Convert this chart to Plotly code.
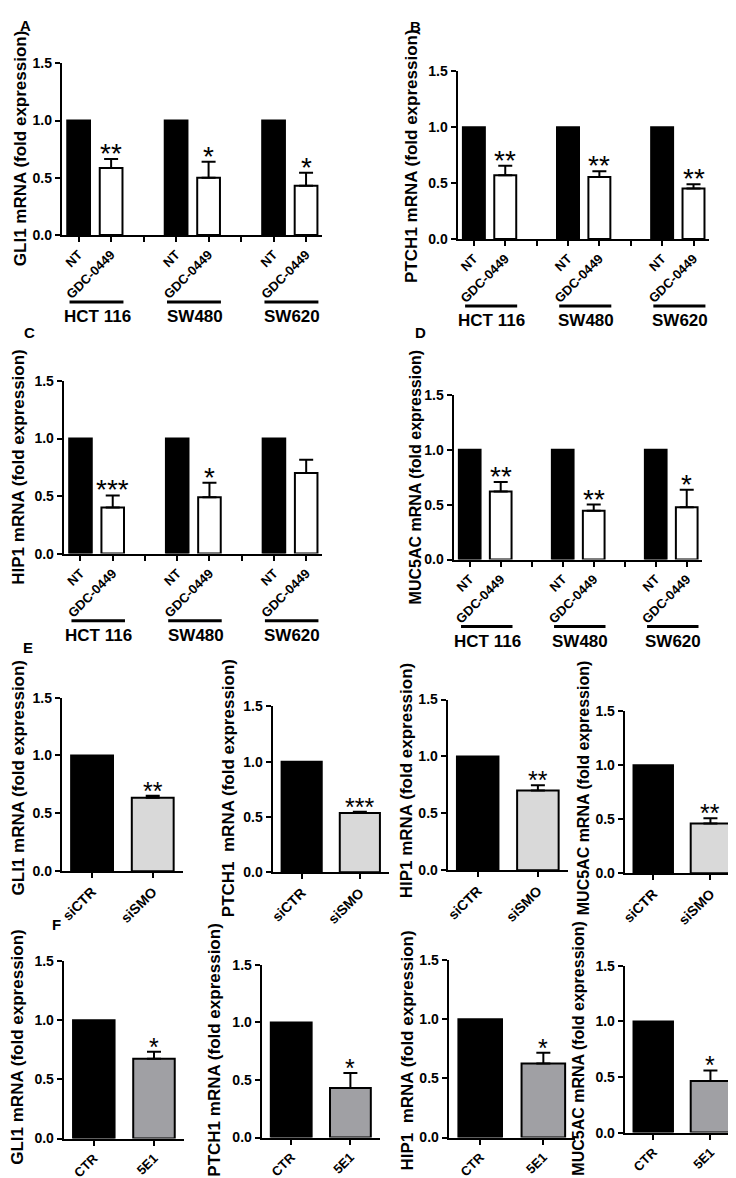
import plotly.graph_objects as go

W, H = 736, 1178
FONT = "Liberation Sans, Arial, Helvetica, sans-serif"

# panels A-D: cell lines treated with GDC-0449
cell_lines = ["HCT 116", "SW480", "SW620"]
treatments = ["NT", "GDC-0449"]

gli1_nt = [1.0, 1.0, 1.0]
gli1_gdc = [0.585, 0.50, 0.43]
gli1_gdc_err = [0.08, 0.14, 0.115]
gli1_stars = ["**", "*", "*"]

ptch1_nt = [1.0, 1.0, 1.0]
ptch1_gdc = [0.57, 0.555, 0.45]
ptch1_gdc_err = [0.085, 0.05, 0.04]
ptch1_stars = ["**", "**", "**"]

hip1_nt = [1.0, 1.0, 1.0]
hip1_gdc = [0.40, 0.49, 0.70]
hip1_gdc_err = [0.105, 0.125, 0.115]
hip1_stars = ["***", "*", ""]

muc5ac_nt = [1.0, 1.0, 1.0]
muc5ac_gdc = [0.62, 0.445, 0.475]
muc5ac_gdc_err = [0.085, 0.055, 0.16]
muc5ac_stars = ["**", "**", "*"]

# panel E: siRNA against SMO
si_labels = ["siCTR", "siSMO"]
si_gli1 = [1.0, 0.635]
si_gli1_err = [0.0, 0.018]
si_ptch1 = [1.0, 0.535]
si_ptch1_err = [0.0, 0.012]
si_hip1 = [1.0, 0.70]
si_hip1_err = [0.0, 0.046]
si_muc5ac = [1.0, 0.46]
si_muc5ac_err = [0.0, 0.05]
si_stars = ["**", "***", "**", "**"]

# panel F: 5E1 antibody
ab_labels = ["CTR", "5E1"]
ab_gli1 = [1.0, 0.675]
ab_gli1_err = [0.0, 0.058]
ab_ptch1 = [1.0, 0.43]
ab_ptch1_err = [0.0, 0.13]
ab_hip1 = [1.0, 0.625]
ab_hip1_err = [0.0, 0.092]
ab_muc5ac = [1.0, 0.465]
ab_muc5ac_err = [0.0, 0.095]
ab_stars = ["*", "*", "*", "*"]


def px(x):
    return x / W


def py(y):
    return 1 - y / H


fig = go.Figure()
annotations = []
shapes = []


def names(i):
    if i == 1:
        return "x", "y", "xaxis", "yaxis"
    return f"x{i}", f"y{i}", f"xaxis{i}", f"yaxis{i}"


def setup_axes(i, box, xrange, tickvals, ticktext, tsize):
    left, right, top, bottom = box
    xn, yn, xa, ya = names(i)
    common = dict(showline=True, linecolor="black", linewidth=2, ticks="outside",
                  ticklen=5, tickwidth=2, tickcolor="black", showgrid=False,
                  zeroline=False, fixedrange=True)
    fig.update_layout({
        xa: dict(domain=[px(left), px(right)], range=xrange, anchor=yn,
                 tickmode="array", tickvals=tickvals, ticktext=ticktext, tickangle=-45,
                 tickfont=dict(family=FONT, size=tsize, color="black", weight="bold"),
                 **common),
        ya: dict(domain=[py(bottom), py(top)], range=[0, 1.5], anchor=xn,
                 tickmode="array", tickvals=[0, 0.5, 1.0, 1.5], tickformat=".1f",
                 tickfont=dict(family=FONT, size=14, color="black", weight="bold"),
                 **common),
    })


def add_bar(i, x, y, err, color, width):
    xn, yn, _, _ = names(i)
    kw = {}
    if err is not None:
        kw["error_y"] = dict(type="data", symmetric=False, array=err,
                             arrayminus=[0] * len(err), color="black",
                             thickness=2, width=7)
    fig.add_trace(go.Bar(x=x, y=y, width=width, xaxis=xn, yaxis=yn,
                         marker=dict(color=color, line=dict(color="black", width=2)),
                         showlegend=False, hoverinfo="skip", **kw))


def add_stars(i, x, y, err, stars, size, shift):
    xn, yn, _, _ = names(i)
    for xv, yv, ev, s in zip(x, y, err, stars):
        if not s:
            continue
        annotations.append(dict(x=xv, y=yv + ev, xref=xn, yref=yn, text=s,
                                showarrow=False, yanchor="bottom", yshift=shift,
                                font=dict(family=FONT, size=size, color="black")))


def ytitle(text, cx, cy):
    size = 16 if text.startswith("MUC5AC") else 17
    annotations.append(dict(x=px(cx - 7), y=py(cy), xref="paper", yref="paper", text=text,
                            textangle=-90, showarrow=False, xanchor="center", yanchor="middle",
                            font=dict(family=FONT, size=size, color="black", weight="bold")))


def letter(text, cx, cy):
    annotations.append(dict(x=px(cx), y=py(cy), xref="paper", yref="paper", text=text,
                            showarrow=False, xanchor="center", yanchor="middle",
                            font=dict(family=FONT, size=15, color="black", weight="bold")))


# ---- panels A-D ----
grid_panels = [
    # idx, box (left, right, top, bottom) px, nt, gdc, err, stars, title, title pos, letter pos
    (1, (50, 312, 48, 222), gli1_nt, gli1_gdc, gli1_gdc_err, gli1_stars,
     "GLI1 mRNA (fold expression)", (15, 134), ("A", 14, 10)),
    (2, (448, 701, 56, 226), ptch1_nt, ptch1_gdc, ptch1_gdc_err, ptch1_stars,
     "PTCH1 mRNA (fold expression)", (408, 142), ("B", 406, 11)),
    (3, (52, 312, 370, 545), hip1_nt, hip1_gdc, hip1_gdc_err, hip1_stars,
     "HIP1 mRNA (fold expression)", (14, 457), ("C", 18, 321)),
    (4, (444, 694, 384, 551), muc5ac_nt, muc5ac_gdc, muc5ac_gdc_err, muc5ac_stars,
     "MUC5AC mRNA (fold expression)", (413, 467), ("D", 411, 321)),
]

for i, box, nt, gdc, err, stars, title, tpos, lpos in grid_panels:
    nt_x = [3 * g for g in range(len(cell_lines))]
    gdc_x = [3 * g + 1 for g in range(len(cell_lines))]
    tickvals = list(range(3 * len(cell_lines) - 1))
    ticktext = [treatments[v % 3] if v % 3 < 2 else "" for v in tickvals]
    setup_axes(i, box, [-0.52, 7.5], tickvals, ticktext, 13)
    add_bar(i, nt_x, nt, None, "black", 0.7)
    add_bar(i, gdc_x, gdc, err, "white", 0.7)
    add_stars(i, gdc_x, gdc, err, stars, 28, -12)
    ytitle(title, *tpos)
    letter(*lpos)
    xn, _, _, _ = names(i)
    bottom = box[3]
    for g, name in enumerate(cell_lines):
        shapes.append(dict(type="line", xref=xn, yref="paper", x0=3 * g - 0.28, x1=3 * g + 1.38,
                           y0=py(bottom + 68), y1=py(bottom + 68),
                           line=dict(color="black", width=3)))
        annotations.append(dict(x=3 * g + 0.57, y=py(bottom + 83), xref=xn, yref="paper",
                                text=name, showarrow=False, xanchor="center", yanchor="middle",
                                font=dict(family=FONT, size=17, color="black", weight="bold")))

# ---- panels E and F ----
row_panels = [
    (5, (50, 172, 691, 867), si_labels, si_gli1, si_gli1_err, si_stars[0], "#d9d9d9",
     "GLI1 mRNA (fold expression)", (14, 772), 14),
    (6, (262, 379, 700, 868), si_labels, si_ptch1, si_ptch1_err, si_stars[1], "#d9d9d9",
     "PTCH1\u00a0 mRNA (fold expression)", (225, 783), 14),
    (7, (438, 559, 693, 866), si_labels, si_hip1, si_hip1_err, si_stars[2], "#d9d9d9",
     "HIP1 mRNA (fold expression)", (404, 775), 14),
    (8, (616, 731, 705, 869), si_labels, si_muc5ac, si_muc5ac_err, si_stars[3], "#d9d9d9",
     "MUC5AC mRNA (fold expression)", (582, 782), 14),
    (9, (52, 173, 958, 1138), ab_labels, ab_gli1, ab_gli1_err, ab_stars[0], "#a0a0a4",
     "GLI1 mRNA (fold expression)", (13, 1045), 13),
    (10, (251, 370, 962, 1137), ab_labels, ab_ptch1, ab_ptch1_err, ab_stars[1], "#a0a0a4",
     "PTCH1 mRNA (fold expression)", (211, 1048), 13),
    (11, (439, 566, 957, 1137), ab_labels, ab_hip1, ab_hip1_err, ab_stars[2], "#a0a0a4",
     "HIP1\u00a0 mRNA (fold expression)", (405, 1049), 13),
    (12, (616, 731, 963, 1132), ab_labels, ab_muc5ac, ab_muc5ac_err, ab_stars[3], "#a0a0a4",
     "MUC5AC mRNA (fold expression)", (577, 1046), 13),
]

for i, box, labels, vals, err, star, color, title, tpos, tsize in row_panels:
    setup_axes(i, box, [-0.5, 1.5], [0, 1], labels, tsize)
    add_bar(i, [0], vals[:1], None, "black", 0.69)
    add_bar(i, [1], vals[1:], err[1:], color, 0.69)
    add_stars(i, [1], vals[1:], err[1:], [star], 25, -11)
    ytitle(title, *tpos)

letter("E", 16, 640)
letter("F", 45, 921)

fig.update_layout(
    width=W, height=H, autosize=False,
    margin=dict(l=0, r=0, t=0, b=0),
    paper_bgcolor="white", plot_bgcolor="white",
    barmode="overlay",
    annotations=annotations, shapes=shapes,
    font=dict(family=FONT, color="black"),
)

fig.write_html("out.html")
